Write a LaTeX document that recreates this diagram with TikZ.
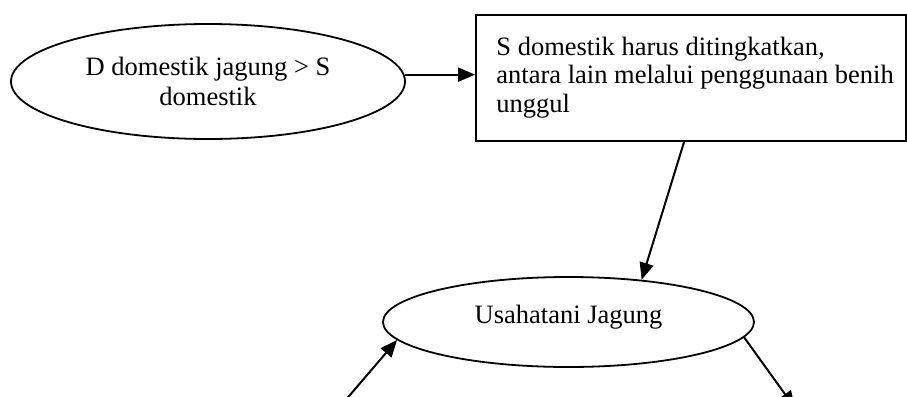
\documentclass[tikz,border=0pt]{standalone}
\usepackage{fontspec}
\setmainfont{Liberation Serif}
\usetikzlibrary{shapes.geometric,arrows.meta,calc}

\tikzset{
  oval/.style={draw, ellipse, line width=0.9pt, inner sep=0pt, align=center,
               font=\fontsize{13.25}{15}\selectfont},
  boxnode/.style={draw, rectangle, line width=0.9pt, inner sep=0pt},
  boxtext/.style={inner sep=0pt, align=left, anchor=base west,
                  font=\fontsize{13.25}{14.25}\selectfont},
  link/.style={line width=1pt, -{Triangle[length=8.5pt,width=7pt]}}
}

\begin{document}
\begin{tikzpicture}[x=0.5pt, y=-0.5pt]
  \useasboundingbox (0,0) rectangle (907,397);

  % demand ellipse
  \node[oval, minimum width=197pt, minimum height=57.5pt] (demand) at (208,81.5)
    {D domestik jagung > S\\domestik};

  % supply box; its text is placed by the baseline of the last line
  \node[boxnode, minimum width=215pt, minimum height=63pt] (supply) at (691,78) {};
  \node[boxtext] (supplytext) at (496,112)
    {S domestik harus ditingkatkan,\\antara lain melalui penggunaan benih\\unggul};

  % farming ellipse
  \node[oval, minimum width=185.5pt, minimum height=45pt] (farm) at (568.5,322) {};
  \node[inner sep=0pt, anchor=base, font=\fontsize{13.25}{15}\selectfont] (farmtext)
    at (568.5,323) {Usahatani Jagung};

  % loose ends running off the lower edge
  \coordinate (inflow) at (344,402);
  \coordinate (outflow) at (795,408);

  % connectors
  \draw[link] (demand.2.5) -- (demand.2.5 -| supply.west);
  \draw[link] ($(supply.south west)!0.484!(supply.south east)$) -- (farm.30.5);
  \draw[link] (inflow) -- (farm.186);
  \draw[link] (farm.-5) -- (outflow);
\end{tikzpicture}
\end{document}
